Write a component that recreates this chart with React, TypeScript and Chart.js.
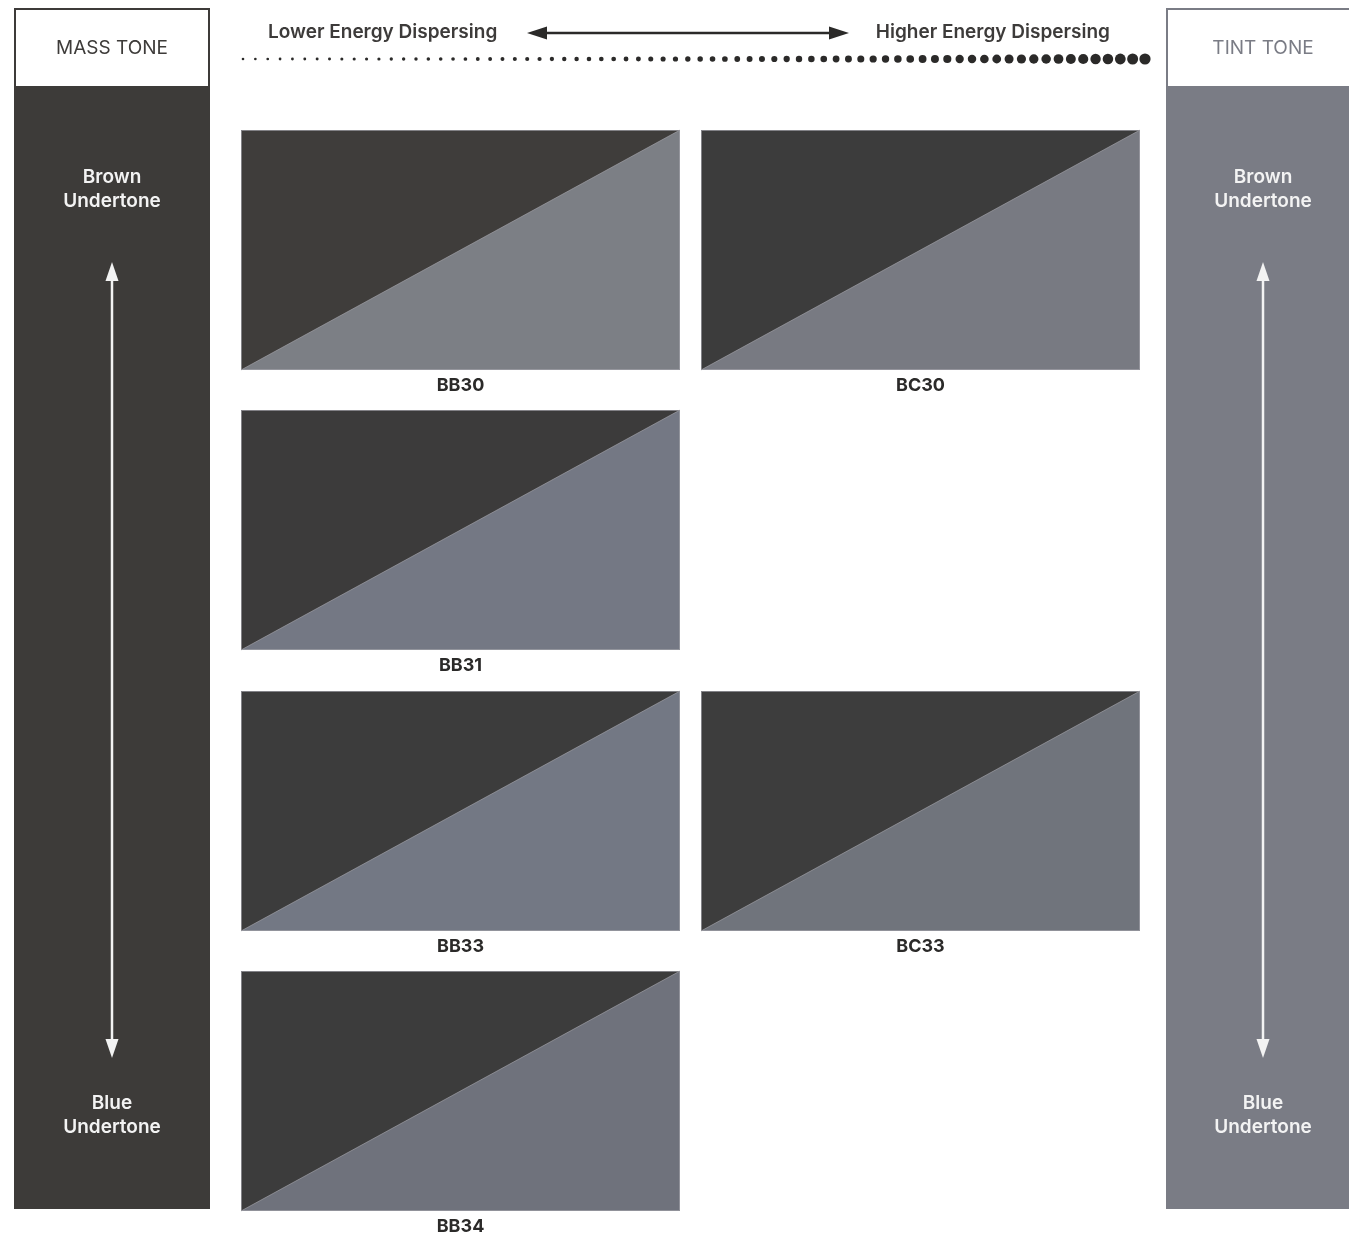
import { useEffect, useRef } from 'react';
import { Chart, registerables } from 'chart.js';

Chart.register(...registerables);

// ---- data ----
const swatchNames = ['BB30', 'BC30', 'BB31', 'BB33', 'BC33', 'BB34'];
// column: 0 = lower energy dispersing, 1 = higher energy dispersing
const swatchColumns = [0, 1, 0, 0, 1, 0];
// row: 0 = brown undertone ... 3 = blue undertone
const swatchRows = [0, 0, 1, 2, 2, 3];
const massToneColors = ['#3f3d3b', '#3c3c3c', '#3c3b3b', '#3c3c3c', '#3d3d3d', '#3c3c3c'];
const tintToneColors = ['#7c7f85', '#787a82', '#747884', '#737884', '#70747c', '#6f727c'];
const energyLabels = ['Lower Energy Dispersing', 'Higher Energy Dispersing'];
const panelTitles = ['MASS TONE', 'TINT TONE'];
const undertoneTop = ['Brown', 'Undertone'];
const undertoneBottom = ['Blue', 'Undertone'];

// ---- style ----
const FONT = '"Inter", "Liberation Sans", Arial, sans-serif';
const MASS_PANEL = '#3d3b39';
const TINT_PANEL = '#7a7c85';
const INK = '#2b2a29';
const PANEL_TEXT = '#f3f3f3';

function arrowHead(ctx: CanvasRenderingContext2D, tipX: number, tipY: number, dx: number, dy: number, len: number, half: number) {
  const bx = tipX - dx * len;
  const by = tipY - dy * len;
  const px = -dy, py = dx;
  ctx.beginPath();
  ctx.moveTo(tipX, tipY);
  ctx.lineTo(bx + px * half, by + py * half);
  ctx.lineTo(bx - px * half, by - py * half);
  ctx.closePath();
  ctx.fill();
}

function drawSidePanel(ctx: CanvasRenderingContext2D, left: number, right: number, cx: number, color: string, title: string) {
  // header box
  ctx.strokeStyle = color;
  ctx.lineWidth = 2;
  ctx.strokeRect(left + 1, 9, right - left - 2, 78);
  ctx.fillStyle = color;
  ctx.font = `400 19px ${FONT}`;
  ctx.textAlign = 'center';
  ctx.textBaseline = 'middle';
  ctx.fillText(title, cx, 48);
  // panel
  ctx.fillRect(left, 86, right - left, 1123);
  // texts
  ctx.fillStyle = PANEL_TEXT;
  ctx.font = `600 19px ${FONT}`;
  ctx.fillText(undertoneTop[0], cx, 177);
  ctx.fillText(undertoneTop[1], cx, 201);
  ctx.fillText(undertoneBottom[0], cx, 1103);
  ctx.fillText(undertoneBottom[1], cx, 1127);
  // vertical double arrow
  ctx.strokeStyle = PANEL_TEXT;
  ctx.lineWidth = 2.5;
  ctx.beginPath();
  ctx.moveTo(cx, 276);
  ctx.lineTo(cx, 1044);
  ctx.stroke();
  arrowHead(ctx, cx, 262, 0, -1, 19, 6.5);
  arrowHead(ctx, cx, 1058, 0, 1, 19, 6.5);
}

const decorPlugin = {
  id: 'pigmentDecor',
  beforeDraw(chart: any) {
    const ctx: CanvasRenderingContext2D = chart.ctx;
    ctx.save();
    drawSidePanel(ctx, 14, 210, 112, MASS_PANEL, panelTitles[0]);
    drawSidePanel(ctx, 1166, 1362, 1263, TINT_PANEL, panelTitles[1]);

    // energy labels and arrow
    ctx.fillStyle = '#3d3b3a';
    ctx.font = `600 19px ${FONT}`;
    ctx.textBaseline = 'middle';
    ctx.textAlign = 'left';
    ctx.fillText(energyLabels[0], 268, 32);
    ctx.textAlign = 'right';
    ctx.fillText(energyLabels[1], 1110, 32);
    ctx.fillStyle = INK;
    ctx.strokeStyle = INK;
    ctx.lineWidth = 2.5;
    ctx.beginPath();
    ctx.moveTo(545, 33);
    ctx.lineTo(832, 33);
    ctx.stroke();
    arrowHead(ctx, 527, 33, -1, 0, 20, 6.5);
    arrowHead(ctx, 849, 33, 1, 0, 20, 6.5);

    // dotted gradient line
    const n = 74;
    const x0 = 243, x1 = 1145;
    for (let i = 0; i < n; i++) {
      const t = i / (n - 1);
      const r = 1.3 * Math.pow(5.6 / 1.3, t);
      ctx.beginPath();
      ctx.arc(x0 + (x1 - x0) * t, 59, r, 0, Math.PI * 2);
      ctx.fill();
    }
    ctx.restore();
  },
  afterDatasetsDraw(chart: any) {
    const ctx: CanvasRenderingContext2D = chart.ctx;
    const xs = chart.scales.x;
    const ys = chart.scales.y;
    const w = Math.round((xs.getPixelForValue(1) - xs.getPixelForValue(0)) * 0.954);
    const h = Math.round((ys.getPixelForValue(1) - ys.getPixelForValue(0)) * 0.855);
    const meta = chart.getDatasetMeta(0);
    ctx.save();
    meta.data.forEach((el: any, i: number) => {
      const left = Math.round(el.x - w / 2);
      const top = Math.round(el.y - h / 2);
      ctx.fillStyle = tintToneColors[i];
      ctx.fillRect(left, top, w, h);
      ctx.fillStyle = massToneColors[i];
      ctx.beginPath();
      ctx.moveTo(left, top);
      ctx.lineTo(left + w, top);
      ctx.lineTo(left, top + h);
      ctx.closePath();
      ctx.fill();
      ctx.strokeStyle = 'rgba(170,170,176,0.6)';
      ctx.lineWidth = 1;
      ctx.beginPath();
      ctx.moveTo(left + w, top);
      ctx.lineTo(left, top + h);
      ctx.stroke();
      ctx.strokeStyle = 'rgba(160,160,166,0.7)';
      ctx.strokeRect(left + 0.5, top + 0.5, w - 1, h - 1);
      ctx.fillStyle = INK;
      ctx.font = `700 18px ${FONT}`;
      ctx.textAlign = 'center';
      ctx.textBaseline = 'middle';
      ctx.fillText(swatchNames[i], el.x, top + h + 16);
    });
    ctx.restore();
  },
};

export default function App() {
  const ref = useRef<HTMLCanvasElement>(null);
  useEffect(() => {
    document.body.style.margin = '0';
    const canvas = ref.current;
    if (!canvas) return;
    const chart = new Chart(canvas, {
      type: 'scatter',
      data: {
        datasets: [
          {
            label: 'Swatches',
            data: swatchNames.map((_, i) => ({ x: swatchColumns[i] + 0.5, y: swatchRows[i] })),
            pointRadius: 0,
            pointHoverRadius: 0,
          },
        ],
      },
      options: {
        responsive: false,
        animation: false,
        events: [],
        layout: { padding: { left: 230.5, right: 198.5, top: 109.3, bottom: 5.3 } },
        scales: {
          x: { type: 'linear', min: 0, max: 2, display: false },
          y: { type: 'linear', min: -0.5, max: 3.5, reverse: true, display: false },
        },
        plugins: { legend: { display: false }, tooltip: { enabled: false } },
      },
      plugins: [decorPlugin],
    });
    return () => chart.destroy();
  }, []);
  return (
    <div style={{ width: 1349, height: 1237, background: '#fff' }}>
      <canvas ref={ref} width={1349} height={1237} style={{ display: 'block' }} />
    </div>
  );
}
